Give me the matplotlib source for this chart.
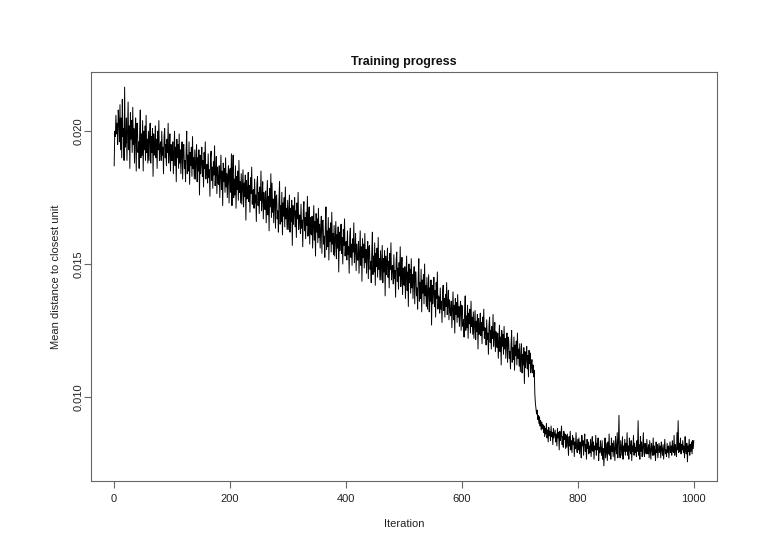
import numpy as np
import matplotlib
matplotlib.use("Agg")
import matplotlib.pyplot as plt

# Mean distance to closest unit, in units of 1e-5, iterations 1..1000
dist_e5 = [
    1870, 2000, 1980, 2060, 1990, 2030, 1950, 2080, 2040, 1960, 2100, 1930, 2050, 1900, 2120, 1980, 2010, 1890, 2166, 1940,
    1960, 2050, 1890, 1995, 2110, 1930, 2020, 1860, 2070, 1970, 2040, 1920, 2090, 1950, 2010, 1880, 1990, 2050, 1850, 2030,
    2030, 1920, 1960, 1860, 2010, 2080, 1900, 1990, 1910, 2040, 1850, 2000, 1930, 2020, 1890, 2060, 1920, 1970, 1880, 2000,
    1890, 1970, 2030, 1880, 1980, 1920, 2010, 1830, 1990, 1910, 1960, 2020, 1900, 1970, 1860, 2000, 1930, 2040, 1890, 1945,
    1960, 1890, 2000, 1910, 1940, 1840, 1980, 2010, 1900, 1950, 1870, 1970, 1920, 2030, 1880, 1930, 1990, 1850, 1950, 1890,
    1890, 1960, 1840, 1920, 2000, 1870, 1940, 1810, 1970, 1900, 1950, 1860, 1990, 1880, 1930, 1840, 1920, 1960, 1820, 1940,
    1950, 1860, 1890, 1810, 1930, 2000, 1840, 1910, 1850, 1960, 1800, 1920, 1870, 1940, 1830, 1980, 1860, 1900, 1820, 1930,
    1820, 1890, 1950, 1810, 1900, 1850, 1930, 1760, 1910, 1840, 1880, 1940, 1830, 1890, 1790, 1920, 1860, 1960, 1820, 1870,
    1875, 1805, 1915, 1825, 1855, 1755, 1895, 1925, 1815, 1865, 1785, 1885, 1835, 1945, 1795, 1845, 1905, 1765, 1865, 1805,
    1800, 1870, 1750, 1830, 1910, 1780, 1850, 1720, 1880, 1810, 1860, 1770, 1900, 1790, 1840, 1750, 1830, 1870, 1730, 1850,
    1860, 1770, 1915, 1720, 1840, 1910, 1750, 1820, 1760, 1870, 1710, 1830, 1780, 1850, 1740, 1890, 1770, 1810, 1730, 1840,
    1725, 1795, 1855, 1715, 1805, 1755, 1835, 1665, 1815, 1745, 1785, 1845, 1735, 1795, 1695, 1825, 1765, 1865, 1725, 1775,
    1780, 1710, 1820, 1730, 1760, 1660, 1800, 1830, 1720, 1770, 1690, 1790, 1740, 1850, 1700, 1750, 1810, 1670, 1770, 1710,
    1705, 1775, 1655, 1735, 1815, 1685, 1755, 1625, 1785, 1715, 1840, 1675, 1805, 1695, 1745, 1655, 1735, 1775, 1635, 1755,
    1760, 1670, 1700, 1620, 1740, 1810, 1650, 1720, 1660, 1770, 1610, 1730, 1680, 1750, 1640, 1790, 1670, 1710, 1630, 1740,
    1630, 1700, 1760, 1620, 1710, 1660, 1740, 1570, 1720, 1650, 1690, 1750, 1640, 1700, 1600, 1730, 1670, 1770, 1630, 1680,
    1685, 1615, 1725, 1635, 1665, 1565, 1705, 1735, 1625, 1675, 1595, 1695, 1645, 1755, 1605, 1655, 1715, 1575, 1675, 1615,
    1610, 1680, 1560, 1640, 1720, 1590, 1660, 1530, 1690, 1620, 1670, 1580, 1710, 1600, 1650, 1560, 1640, 1680, 1540, 1660,
    1665, 1575, 1605, 1525, 1645, 1715, 1555, 1625, 1565, 1675, 1515, 1635, 1585, 1655, 1545, 1695, 1575, 1615, 1535, 1645,
    1530, 1600, 1660, 1520, 1610, 1560, 1640, 1470, 1620, 1550, 1590, 1650, 1540, 1600, 1500, 1630, 1570, 1670, 1530, 1580,
    1585, 1515, 1625, 1535, 1565, 1465, 1605, 1635, 1525, 1575, 1495, 1595, 1545, 1655, 1505, 1555, 1615, 1475, 1575, 1515,
    1515, 1585, 1465, 1545, 1625, 1495, 1565, 1435, 1595, 1525, 1575, 1485, 1615, 1505, 1555, 1465, 1545, 1585, 1445, 1565,
    1570, 1480, 1510, 1430, 1550, 1620, 1460, 1530, 1470, 1580, 1420, 1540, 1490, 1560, 1450, 1600, 1480, 1520, 1440, 1550,
    1440, 1510, 1570, 1430, 1520, 1470, 1550, 1380, 1530, 1460, 1500, 1560, 1450, 1510, 1410, 1540, 1480, 1580, 1440, 1490,
    1495, 1425, 1535, 1445, 1475, 1375, 1515, 1545, 1435, 1485, 1405, 1505, 1455, 1565, 1415, 1465, 1525, 1385, 1485, 1425,
    1420, 1490, 1370, 1450, 1530, 1400, 1470, 1340, 1500, 1430, 1480, 1390, 1520, 1410, 1460, 1370, 1450, 1490, 1350, 1470,
    1470, 1380, 1410, 1330, 1450, 1520, 1360, 1430, 1370, 1480, 1320, 1440, 1390, 1460, 1350, 1500, 1380, 1420, 1340, 1450,
    1330, 1400, 1460, 1320, 1410, 1360, 1440, 1270, 1420, 1350, 1390, 1450, 1340, 1400, 1300, 1430, 1370, 1470, 1330, 1380,
    1375, 1315, 1410, 1330, 1360, 1280, 1390, 1420, 1325, 1370, 1300, 1385, 1340, 1430, 1310, 1350, 1400, 1290, 1365, 1320,
    1305, 1360, 1260, 1330, 1395, 1290, 1345, 1240, 1370, 1310, 1355, 1280, 1385, 1300, 1340, 1265, 1330, 1360, 1250, 1345,
    1340, 1265, 1290, 1225, 1325, 1380, 1250, 1305, 1260, 1345, 1220, 1315, 1275, 1330, 1240, 1360, 1265, 1300, 1235, 1320,
    1220, 1275, 1325, 1215, 1285, 1245, 1310, 1180, 1295, 1235, 1270, 1315, 1230, 1280, 1200, 1300, 1250, 1330, 1220, 1260,
    1255, 1195, 1290, 1215, 1240, 1160, 1270, 1300, 1205, 1250, 1180, 1265, 1220, 1310, 1190, 1230, 1280, 1170, 1245, 1200,
    1185, 1240, 1145, 1210, 1270, 1170, 1225, 1120, 1250, 1190, 1235, 1160, 1265, 1180, 1220, 1145, 1210, 1240, 1130, 1225,
    1215, 1145, 1170, 1105, 1200, 1250, 1130, 1185, 1140, 1225, 1100, 1195, 1155, 1210, 1120, 1240, 1145, 1180, 1115, 1200,
    1095, 1150, 1200, 1090, 1160, 1120, 1185, 1050, 1170, 1110, 1145, 1190, 1105, 1155, 1075, 1175, 1125, 1165, 1090, 1120,
    1140, 1090, 1120, 1075, 1100, 1010, 975, 955, 935, 950, 915, 930, 900, 925, 890, 910, 875, 905, 880, 895,
    865, 890, 850, 880, 860, 900, 845, 875, 830, 885, 855, 870, 835, 890, 850, 865, 820, 880, 845, 860,
    875, 830, 860, 815, 880, 845, 865, 800, 870, 835, 855, 890, 820, 850, 810, 870, 840, 860, 805, 855,
    810, 860, 825, 780, 850, 815, 870, 800, 835, 790, 855, 820, 845, 775, 830, 805, 865, 810, 790, 840,
    800, 845, 785, 830, 810, 770, 855, 815, 835, 780, 825, 860, 795, 820, 765, 840, 805, 830, 785, 815,
    790, 840, 775, 820, 850, 795, 830, 765, 815, 800, 855, 780, 825, 800, 845, 760, 810, 790, 835, 800,
    780, 835, 765, 805, 740, 800, 845, 770, 825, 795, 760, 830, 785, 860, 780, 815, 765, 845, 795, 825,
    775, 835, 800, 760, 850, 805, 785, 865, 770, 825, 930, 790, 770, 835, 805, 780, 850, 765, 815, 795,
    840, 780, 825, 795, 865, 780, 815, 765, 845, 800, 785, 835, 760, 815, 795, 855, 780, 825, 790, 810,
    775, 835, 795, 910, 780, 820, 765, 850, 795, 830, 775, 810, 865, 790, 775, 825, 795, 785, 840, 800,
    785, 820, 770, 835, 800, 765, 825, 805, 780, 845, 780, 815, 795, 760, 830, 790, 820, 770, 800, 825,
    790, 815, 770, 830, 800, 780, 820, 765, 805, 840, 785, 800, 775, 825, 790, 815, 770, 800, 830, 790,
    815, 780, 835, 795, 790, 855, 780, 820, 800, 775, 865, 800, 910, 790, 825, 795, 845, 785, 820, 800,
    835, 790, 815, 770, 850, 800, 785, 825, 755, 815, 795, 840, 780, 820, 795, 830, 785, 835, 805, 835,
]
x_ticks = [0, 200, 400, 600, 800, 1000]
y_ticks = [0.010, 0.015, 0.020]
title = "Training progress"
x_label = "Iteration"
y_label = "Mean distance to closest unit"

values = np.array(dist_e5) * 1e-5
iterations = np.arange(1, len(values) + 1)

plt.rcParams['font.family'] = ['Liberation Sans', 'DejaVu Sans']

fig = plt.figure(figsize=(7.70, 5.34), dpi=100)
ax = fig.add_axes([91 / 770, 1 - 481 / 534, (717 - 91) / 770, (481 - 72) / 534])

ax.plot(iterations, values, color='black', lw=0.7)

# R-style 4% padding
xr = iterations.max() - iterations.min()
ax.set_xlim(iterations.min() - 0.04 * xr, iterations.max() + 0.04 * xr)
yr = values.max() - values.min()
ax.set_ylim(values.min() - 0.04 * yr, values.max() + 0.04 * yr)

ax.set_xticks(x_ticks)
ax.set_xticklabels([str(t) for t in x_ticks])
ax.set_yticks(y_ticks)
ax.set_yticklabels([f"{t:.3f}" for t in y_ticks], rotation=90, va='center')

for s in ax.spines.values():
    s.set_color('#666666')
    s.set_linewidth(0.8)
ax.tick_params(axis='both', direction='out', length=5, width=0.8, color='#666666',
               labelsize=8, labelcolor='#222222')
ax.tick_params(axis='x', pad=4)
ax.tick_params(axis='y', pad=0.5)

ax.set_title(title, fontsize=9, fontweight='bold', pad=5, color='#111111')
ax.set_xlabel(x_label, fontsize=8, labelpad=11, color='#222222')
ax.set_ylabel(y_label, fontsize=8, labelpad=9, color='#222222')

fig.savefig('out.png', dpi=100)
